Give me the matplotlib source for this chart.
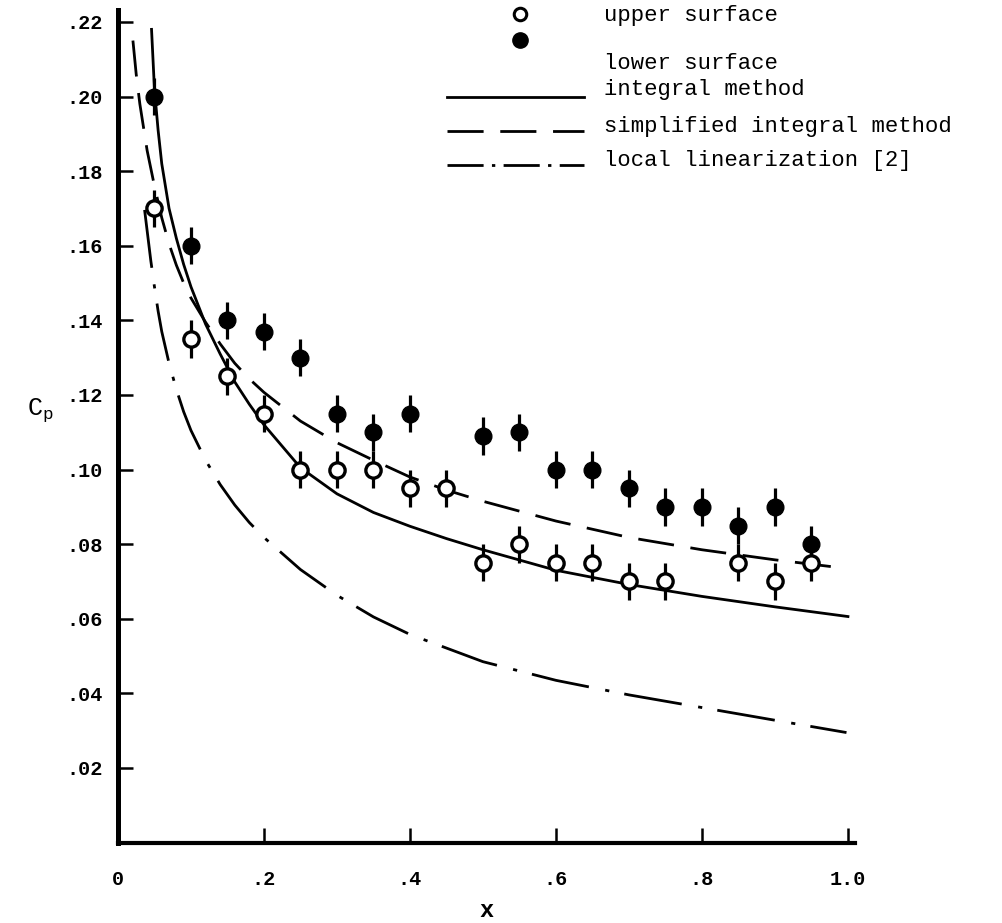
import matplotlib
matplotlib.use("Agg")
import matplotlib.pyplot as plt


# =========================================================
# DATA
# =========================================================

X_UPPER = [0.05, 0.10, 0.15, 0.20, 0.25, 0.30, 0.35, 0.40, 0.45,
           0.50, 0.55, 0.60, 0.65, 0.70, 0.75, 0.85, 0.90, 0.95]
CP_UPPER = [0.170, 0.135, 0.125, 0.115, 0.100, 0.100, 0.100, 0.095, 0.095,
            0.075, 0.080, 0.075, 0.075, 0.070, 0.070, 0.075, 0.070, 0.075]

X_LOWER = [0.05, 0.10, 0.15, 0.20, 0.25, 0.30, 0.35, 0.40, 0.50,
           0.55, 0.60, 0.65, 0.70, 0.75, 0.80, 0.85, 0.90, 0.95]
CP_LOWER = [0.200, 0.160, 0.140, 0.137, 0.130, 0.115, 0.110, 0.115, 0.109,
            0.110, 0.100, 0.100, 0.095, 0.090, 0.090, 0.085, 0.090, 0.080]

CP_ERR = 0.005

X_INTEGRAL = [0.046, 0.050, 0.055, 0.060, 0.070, 0.080, 0.090, 0.100, 0.120,
              0.140, 0.160, 0.180, 0.200, 0.250, 0.300, 0.350, 0.400, 0.450,
              0.500, 0.600, 0.700, 0.800, 0.900, 1.000]
CP_INTEGRAL = [0.218, 0.202, 0.191, 0.182, 0.170, 0.162, 0.155, 0.149, 0.139,
               0.131, 0.1235, 0.1175, 0.112, 0.1005, 0.0935, 0.0885, 0.0848,
               0.0815, 0.0785, 0.0730, 0.0692, 0.0660, 0.0632, 0.0606]

X_SIMPLIFIED = [0.0205, 0.025, 0.030, 0.040, 0.050, 0.060, 0.070, 0.080,
                0.090, 0.100, 0.120, 0.140, 0.160, 0.180, 0.200, 0.250, 0.300,
                0.350, 0.400, 0.450, 0.500, 0.600, 0.700, 0.800, 0.900, 0.985]
CP_SIMPLIFIED = [0.215, 0.206, 0.198, 0.1855, 0.176, 0.1675, 0.1605, 0.1548,
                 0.150, 0.146, 0.1395, 0.1337, 0.1285, 0.1243, 0.1207, 0.1130,
                 0.1072, 0.1025, 0.098, 0.0945, 0.0915, 0.0862, 0.0818,
                 0.0785, 0.0758, 0.0738]

X_LOCAL = [0.0365, 0.040, 0.045, 0.050, 0.055, 0.060, 0.070, 0.080, 0.090,
           0.100, 0.120, 0.140, 0.160, 0.180, 0.200, 0.250, 0.300, 0.350,
           0.400, 0.500, 0.600, 0.700, 0.800, 0.900, 0.998]
CP_LOCAL = [0.1696, 0.164, 0.156, 0.149, 0.1425, 0.137, 0.1285, 0.1215,
            0.1155, 0.1105, 0.1025, 0.0960, 0.0905, 0.0858, 0.0818, 0.0732,
            0.0663, 0.0605, 0.0558, 0.0485, 0.0435, 0.0396, 0.0362, 0.0328,
            0.0295]

X_TICKS = [0.0, 0.2, 0.4, 0.6, 0.8, 1.0]
X_TICK_LABELS = ["0", ".2", ".4", ".6", ".8", "1.0"]
Y_TICKS = [0.02, 0.04, 0.06, 0.08, 0.10, 0.12, 0.14, 0.16, 0.18, 0.20, 0.22]
Y_TICK_LABELS = [".02", ".04", ".06", ".08", ".10", ".12", ".14", ".16",
                 ".18", ".20", ".22"]

LEGEND_LABELS = ["upper surface", "lower surface", "integral method",
                 "simplified integral method", "local linearization [2]"]


# =========================================================
# STYLE
# =========================================================

FONT = "Liberation Mono"
plt.rcParams["font.family"] = [FONT, "DejaVu Sans Mono"]
plt.rcParams["mathtext.fontset"] = "custom"
plt.rcParams["mathtext.rm"] = FONT

DASHED = (0, (13, 6))
DASHDOT = (0, (21, 6, 1.5, 5.5))
DASHDOT_LEGEND = (0, (13, 3, 1.2, 3))


# =========================================================
# PLOT
# =========================================================

fig = plt.figure(figsize=(10.03, 9.23), dpi=100)
ax = fig.add_axes([0.1176, 0.0871, 0.7348, 0.9021])

# theory curves
ax.plot(X_INTEGRAL, CP_INTEGRAL, color="k", lw=2.0, zorder=2)
ax.plot(X_SIMPLIFIED, CP_SIMPLIFIED, color="k", lw=2.0, ls=DASHED, zorder=2)
ax.plot(X_LOCAL, CP_LOCAL, color="k", lw=2.0, ls=DASHDOT, zorder=2)

# measurements with error bars
ax.errorbar(X_UPPER, CP_UPPER, yerr=CP_ERR, fmt="none", ecolor="k",
            elinewidth=2.3, capsize=0, zorder=3)
ax.errorbar(X_LOWER, CP_LOWER, yerr=CP_ERR, fmt="none", ecolor="k",
            elinewidth=2.3, capsize=0, zorder=3)
ax.plot(X_UPPER, CP_UPPER, "o", ms=11, mfc="white", mec="k", mew=2.4,
        zorder=4)
ax.plot(X_LOWER, CP_LOWER, "o", ms=12, mfc="k", mec="k", zorder=4)

# axes
ax.set_xlim(0, 1.0096)
ax.set_ylim(0, 0.2232)

ax.spines["top"].set_visible(False)
ax.spines["right"].set_visible(False)
ax.spines["left"].set_linewidth(3.6)
ax.spines["bottom"].set_linewidth(3.0)

ax.set_xticks(X_TICKS)
ax.set_xticklabels(X_TICK_LABELS)
ax.set_yticks(Y_TICKS)
ax.set_yticklabels(Y_TICK_LABELS)

ax.tick_params(axis="both", direction="in", length=11, width=1.8,
               labelsize=14.5)
ax.tick_params(axis="x", pad=20)
ax.tick_params(axis="y", pad=11)
for label in ax.get_xticklabels() + ax.get_yticklabels():
    label.set_fontweight("bold")

fig.text(0.4855, 0.014, "x", fontsize=17, fontweight="bold",
         ha="center", va="center")
fig.text(0.040, 0.556, r"C$_\mathrm{p}$", fontsize=18,
         ha="center", va="center")

# hand made legend in the top right corner
tr = ax.transAxes
ax.plot([0.5455], [0.9952], "o", ms=9, mfc="white", mec="k", mew=2.2,
        transform=tr, clip_on=False)
ax.plot([0.5455], [0.9640], "o", ms=11, mfc="k", mec="k",
        transform=tr, clip_on=False)
ax.plot([0.446, 0.632], [0.8956, 0.8956], color="k", lw=2.0,
        transform=tr, clip_on=False)
ax.plot([0.446, 0.632], [0.8547, 0.8547], color="k", lw=2.0, ls=DASHED,
        transform=tr, clip_on=False)
ax.plot([0.446, 0.632], [0.8136, 0.8136], color="k", lw=2.0,
        ls=DASHDOT_LEGEND, transform=tr, clip_on=False)

text_y = [0.9930, 0.9352, 0.904, 0.8597, 0.8198]
for label, ty in zip(LEGEND_LABELS, text_y):
    ax.text(0.659, ty, label, fontsize=16, ha="left", va="center",
            transform=tr, clip_on=False)

fig.savefig("out.png", dpi=100)
